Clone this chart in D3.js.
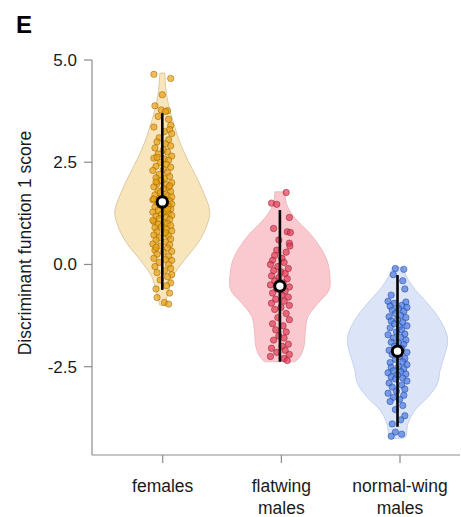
<!DOCTYPE html>
<html><head><meta charset="utf-8">
<script src="https://cdn.jsdelivr.net/npm/d3@7"></script>
<style>body{margin:0;background:#fff}svg{display:block}</style>
</head><body>
<svg id="c" width="461" height="517"></svg>
<script>
// ---------- data ----------
const categories = ["females", "flatwing\nmales", "normal-wing\nmales"];
const yTicks = [-2.5, 0.0, 2.5, 5.0];
const yTickLabels = ["-2.5", "0.0", "2.5", "5.0"];

// violin profiles: value and relative density
const femalesProfileV = [4.68, 4.19, 3.77, 3.36, 2.96, 2.55, 2.14, 1.74, 1.29, 0.92, 0.52, 0.105, -0.30, -0.70, -1.0];
const femalesProfileD = [0.05, 0.08, 0.15, 0.25, 0.36, 0.51, 0.68, 0.83, 0.95, 0.88, 0.71, 0.44, 0.21, 0.11, 0.05];
const flatProfileV = [1.775, 1.49, 1.25, 1.0, 0.76, 0.43, 0.105, -0.30, -0.63, -0.95, -1.28, -1.61, -2.01, -2.26, -2.38];
const flatProfileD = [0.10, 0.13, 0.23, 0.40, 0.60, 0.80, 0.94, 1.0, 0.98, 0.76, 0.56, 0.51, 0.48, 0.40, 0.30];
const normalProfileV = [-0.07, -0.30, -0.55, -0.87, -1.28, -1.69, -1.93, -2.26, -2.59, -2.91, -3.24, -3.56, -3.89, -4.22, -4.25];
const normalProfileD = [0.10, 0.18, 0.31, 0.54, 0.81, 0.98, 1.0, 0.93, 0.85, 0.80, 0.61, 0.35, 0.21, 0.16, 0.10];

// summary: median and whisker range
const medians = [1.53, -0.53, -2.12];
const whiskerHigh = [3.70, 1.33, -0.26];
const whiskerLow = [-0.62, -2.38, -3.97];

// individual scores and horizontal jitter (fraction of jitter width)
const femalesV = [4.65,4.55,4.15,3.88,3.78,3.76,3.74,3.62,3.55,3.4,3.36,3.3,3.25,3.2,3.1,3.05,3.0,2.95,2.9,2.85,2.8,2.75,2.7,2.65,2.6,2.58,2.55,2.5,2.45,2.4,2.38,2.32,2.3,2.25,2.2,2.15,2.12,2.1,2.05,2.0,1.98,1.95,1.9,1.88,1.85,1.8,1.78,1.75,1.72,1.7,1.68,1.65,1.62,1.6,1.58,1.55,1.52,1.5,1.48,1.45,1.42,1.4,1.38,1.35,1.32,1.3,1.28,1.25,1.22,1.2,1.18,1.15,1.12,1.1,1.05,1.02,1.0,0.98,0.95,0.92,0.9,0.85,0.82,0.8,0.75,0.72,0.7,0.65,0.62,0.6,0.55,0.5,0.48,0.45,0.4,0.35,0.32,0.3,0.25,0.2,0.15,0.12,0.1,0.05,0.0,-0.05,-0.1,-0.15,-0.2,-0.25,-0.3,-0.38,-0.45,-0.52,-0.6,-0.7,-0.81,-0.93,-0.97,2.02,1.6,1.35,1.08,0.78,0.42,2.62,1.92];
const femalesJ = [-0.8,0.8,0,-0.7,-0.1,0.5,0.3,-0.4,0.6,0.8,-0.8,0.7,0.2,0.9,-0.3,0.6,-0.5,0.3,0.8,-0.7,0.1,0.5,-0.4,0.9,-0.8,0.2,0.6,-0.2,0.4,-0.6,0.8,0.1,-0.9,0.5,-0.3,0.7,-0.6,0.2,-0.1,0.9,-0.5,0.4,-0.8,0.6,0.1,-0.4,0.8,-0.2,0.3,-0.7,0.5,0.9,-0.3,0.2,-0.9,0.7,-0.5,0.4,0.9,-0.2,0.6,-0.7,0.1,0.8,-0.4,0.3,-0.9,0.6,-0.1,0.9,-0.6,0.4,-0.3,0.7,-0.8,0.2,0.5,-0.4,0.8,-0.1,-0.7,0.4,0.9,-0.5,0.2,-0.8,0.6,-0.3,0.8,-0.6,0.3,-0.9,0.7,-0.2,0.5,-0.7,0.9,0.1,-0.5,0.6,-0.8,0.3,0.9,-0.3,0.6,-0.7,0.8,0.2,-0.5,0.9,0.5,-0.2,0.8,0.4,-0.6,0.7,-0.5,0.2,0.6,-0.6,-0.8,0.5,-0.9,0.3,-0.6,-0.5,0.7];
const flatV = [1.76,1.5,1.47,1.15,0.88,0.8,0.78,0.6,0.52,0.45,0.35,0.3,0.22,0.15,0.1,0.05,0.0,-0.05,-0.1,-0.15,-0.18,-0.22,-0.28,-0.32,-0.35,-0.4,-0.45,-0.5,-0.55,-0.6,-0.65,-0.7,-0.75,-0.8,-0.85,-0.9,-0.95,-1.0,-1.05,-1.1,-1.2,-1.3,-1.35,-1.45,-1.5,-1.6,-1.65,-1.75,-1.8,-1.85,-1.95,-2.0,-2.05,-2.1,-2.15,-2.2,-2.25,-2.3,-2.35];
const flatJ = [0.6,-0.8,-0.3,0.9,-0.6,0.7,1.0,-0.1,0.9,0.95,-0.3,0.6,-0.5,0.2,-0.7,0.4,-0.9,-0.2,0.8,-0.6,0.1,0.5,-0.8,-0.1,0.7,-0.5,0.3,-0.9,0.9,-0.3,0.5,-0.7,0.2,0.8,-0.4,0.4,-0.8,0.9,0.1,-0.5,0.6,-0.2,0.9,-0.7,0.3,-0.4,0.6,-0.1,0.4,-0.6,0.8,0.2,-0.8,0.5,-0.3,0.9,-0.9,0.4,0.7];
const normalV = [-0.1,-0.12,-0.25,-0.4,-0.6,-0.75,-0.9,-0.92,-0.95,-1.0,-1.02,-1.05,-1.08,-1.12,-1.15,-1.2,-1.25,-1.28,-1.3,-1.35,-1.38,-1.42,-1.45,-1.5,-1.52,-1.55,-1.6,-1.65,-1.7,-1.72,-1.78,-1.8,-1.85,-1.9,-1.92,-1.95,-2.0,-2.05,-2.1,-2.15,-2.2,-2.25,-2.3,-2.32,-2.38,-2.4,-2.45,-2.5,-2.52,-2.55,-2.6,-2.62,-2.65,-2.68,-2.7,-2.75,-2.78,-2.8,-2.85,-2.9,-2.95,-3.0,-3.05,-3.1,-3.15,-3.2,-3.25,-3.3,-3.35,-3.45,-3.55,-3.7,-3.8,-3.9,-4.1,-4.15,-4.2];
const normalJ = [-0.2,0.6,-0.4,0.5,0.7,-0.6,-0.9,0.8,-0.3,0.4,-0.7,0.9,0.1,-0.5,0.6,-0.2,0.3,-0.8,0.8,0.0,-0.6,0.5,-0.3,0.9,0.2,-0.7,0.4,-0.1,0.7,-0.9,0.3,-0.4,0.8,-0.6,0.1,0.6,-0.3,0.4,-0.8,0.9,-0.5,0.2,0.7,-0.2,0.5,-0.7,0.9,0.1,-0.6,0.6,-0.4,0.3,-0.9,0.8,0.0,-0.6,0.5,-0.2,0.9,-0.8,0.4,-0.5,0.7,-0.1,-0.9,0.6,-0.4,0.2,-0.7,0.5,-0.2,0.7,0.3,-0.5,-0.2,0.4,-0.6];

const violinFill = ["#f9e5bb", "#f9c9cf", "#dce5f8"];
const violinStroke = ["#dccaa0", "#efb8c0", "#c5d1ec"];
const pointFill = ["#e8a012", "#e23c56", "#4a7be0"];
const pointStroke = ["#8f6000", "#86182c", "#1f3f98"];

// ---------- drawing ----------
const svg = d3.select("#c");
const font = "'Liberation Sans', Arial, sans-serif";

const y = d3.scaleLinear().domain([-4.66, 5.0]).range([455, 60]);
const xAxisScale = d3.scalePoint().domain(categories).range([162.7, 400]);
const xMark = d3.scaleLinear().domain([0, 2]).range([162.3, 397.5]);
const w = d3.scaleLinear().domain([0, 1]).range([0, 50]);
const jit = d3.scaleLinear().domain([-1, 1]).range([-10.5, 10.5]);

const profiles = [
  d3.zip(femalesProfileV, femalesProfileD),
  d3.zip(flatProfileV, flatProfileD),
  d3.zip(normalProfileV, normalProfileD)
];
const points = [d3.zip(femalesV, femalesJ), d3.zip(flatV, flatJ), d3.zip(normalV, normalJ)];

// panel letter
svg.append("text").attr("x", 16).attr("y", 33).attr("font-family", font)
  .attr("font-weight", "bold").attr("font-size", 24).text("E");

// axes
const axisColor = "#8c8c8c";
svg.append("line").attr("x1", 92).attr("x2", 92).attr("y1", y(5.0)).attr("y2", 455)
  .attr("stroke", axisColor).attr("stroke-width", 1.2);
svg.append("line").attr("x1", 92).attr("x2", 460).attr("y1", 455).attr("y2", 455)
  .attr("stroke", axisColor).attr("stroke-width", 1.2);

yTicks.forEach((t, i) => {
  svg.append("line").attr("x1", 84).attr("x2", 92).attr("y1", y(t)).attr("y2", y(t))
    .attr("stroke", axisColor).attr("stroke-width", 1.2);
  svg.append("text").attr("x", 77).attr("y", y(t)).attr("dy", "0.35em")
    .attr("text-anchor", "end").attr("font-family", font).attr("font-size", 17)
    .attr("fill", "#1a1a1a").text(yTickLabels[i]);
});

categories.forEach(c => {
  const cx = xAxisScale(c);
  svg.append("line").attr("x1", cx).attr("x2", cx).attr("y1", 455).attr("y2", 463)
    .attr("stroke", axisColor).attr("stroke-width", 1.2);
  const lines = c.split("\n");
  lines.forEach((ln, i) => {
    svg.append("text").attr("x", cx).attr("y", 491.5 + i * 22.5)
      .attr("text-anchor", "middle").attr("font-family", font).attr("font-size", 17.5)
      .attr("fill", "#1a1a1a").text(ln);
  });
});

svg.append("text").attr("transform", "translate(30.5,243) rotate(-90)")
  .attr("text-anchor", "middle").attr("font-family", font).attr("font-size", 17.5)
  .attr("fill", "#1a1a1a").text("Discriminant function 1 score");

// violins
profiles.forEach((prof, i) => {
  const cx = xMark(i);
  const area = d3.area()
    .y(d => y(d[0]))
    .x0(d => cx - w(d[1]))
    .x1(d => cx + w(d[1]))
    .curve(d3.curveCatmullRom);
  svg.append("path").datum(prof).attr("d", area)
    .attr("fill", violinFill[i]).attr("stroke", violinStroke[i]).attr("stroke-width", 1);
});

// points
points.forEach((pts, i) => {
  const cx = xMark(i);
  svg.append("g").selectAll("circle").data(pts).join("circle")
    .attr("cx", d => cx + jit(d[1])).attr("cy", d => y(d[0])).attr("r", 3.2)
    .attr("fill", pointFill[i]).attr("fill-opacity", 0.7)
    .attr("stroke", pointStroke[i]).attr("stroke-opacity", 0.7).attr("stroke-width", 0.7);
});

// whiskers and medians
medians.forEach((m, i) => {
  const cx = xMark(i);
  svg.append("line").attr("x1", cx).attr("x2", cx)
    .attr("y1", y(whiskerHigh[i])).attr("y2", y(whiskerLow[i]))
    .attr("stroke", "#000").attr("stroke-width", 2.6);
  svg.append("circle").attr("cx", cx).attr("cy", y(m)).attr("r", 5.2)
    .attr("fill", "#fff").attr("stroke", "#000").attr("stroke-width", 3);
});
</script>
</body></html>
